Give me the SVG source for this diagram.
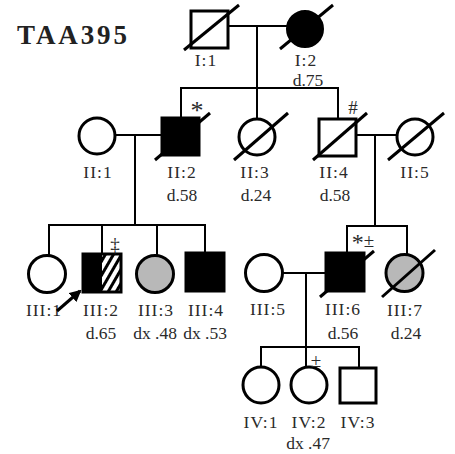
<svg xmlns="http://www.w3.org/2000/svg" width="455" height="454" viewBox="0 0 455 454">
<style>
.sh{stroke:#000;stroke-width:3;fill:#fff}
.sl{stroke:#000;stroke-width:3;stroke-linecap:butt}
.ln{stroke:#000;stroke-width:2;fill:none}
.lb{font-family:"Liberation Serif","Times New Roman",serif;font-size:17.5px;fill:#2a2a2a;text-anchor:middle;letter-spacing:1px}
.ag{font-family:"Liberation Serif","Times New Roman",serif;font-size:17.5px;fill:#2a2a2a;text-anchor:middle}
.mk{font-family:"Liberation Serif","Times New Roman",serif;font-size:20px;fill:#2a2a2a;text-anchor:middle}
</style>
<defs>
<pattern id="hatch" patternUnits="userSpaceOnUse" width="7" height="7" patternTransform="rotate(30)">
<rect x="0" y="0" width="7" height="7" fill="#fff"/>
<rect x="0" y="0" width="3" height="7" fill="#000"/>
</pattern>
<marker id="ah" markerWidth="12" markerHeight="12" refX="10" refY="6" orient="auto" markerUnits="userSpaceOnUse">
<path d="M0,0 L12,6 L0,12 Z" fill="#000"/>
</marker>
</defs>
<rect width="455" height="454" fill="#fff"/>
<text x="17" y="44" font-family="'Liberation Serif','Times New Roman',serif" font-weight="bold" font-size="27" fill="#222" textLength="110" lengthAdjust="spacing">TAA395</text>

<g id="connectors">
<line class="ln" x1="228" y1="26" x2="288" y2="26"/>
<line class="ln" x1="257" y1="26" x2="257" y2="88"/>
<line class="ln" x1="180" y1="88" x2="339" y2="88"/>
<line class="ln" x1="181" y1="88" x2="181" y2="118"/>
<line class="ln" x1="257" y1="88" x2="257" y2="119"/>
<line class="ln" x1="338" y1="88" x2="338" y2="119"/>
<line class="ln" x1="115" y1="135" x2="162" y2="135"/>
<line class="ln" x1="135" y1="135" x2="135" y2="225"/>
<line class="ln" x1="48" y1="225" x2="206" y2="225"/>
<line class="ln" x1="49" y1="225" x2="49" y2="255"/>
<line class="ln" x1="102" y1="225" x2="102" y2="254"/>
<line class="ln" x1="157" y1="225" x2="157" y2="255"/>
<line class="ln" x1="205" y1="225" x2="205" y2="253"/>
<line class="ln" x1="356" y1="135" x2="397" y2="135"/>
<line class="ln" x1="375" y1="135" x2="375" y2="226"/>
<line class="ln" x1="346" y1="226" x2="408" y2="226"/>
<line class="ln" x1="347" y1="226" x2="347" y2="253"/>
<line class="ln" x1="407" y1="226" x2="407" y2="255"/>
<line class="ln" x1="283" y1="273" x2="326" y2="273"/>
<line class="ln" x1="306" y1="273" x2="306" y2="366"/>
<line class="ln" x1="260" y1="347" x2="360" y2="347"/>
<line class="ln" x1="261" y1="347" x2="261" y2="366"/>
<line class="ln" x1="359" y1="347" x2="359" y2="368"/>
</g>

<g id="I1">
<rect class="sh" x="191" y="11" width="37" height="37"/>
<line class="sl" x1="184" y1="50" x2="239" y2="5"/>
<text class="lb" x="206" y="66">I:1</text>
</g>
<g id="I2">
<circle class="sh" cx="305" cy="29" r="17.5" style="fill:#000"/>
<line class="sl" x1="280" y1="49" x2="333" y2="5"/>
<text class="lb" x="306" y="66">I:2</text>
<text class="ag" x="308" y="86">d.75</text>
</g>

<g id="II1">
<circle class="sh" cx="97" cy="136" r="18"/>
<text class="lb" x="98" y="178">II:1</text>
</g>
<g id="II2">
<rect class="sh" x="162" y="118" width="37" height="37" style="fill:#000"/>
<line class="sl" x1="155" y1="160" x2="210" y2="113"/>
<text class="mk" x="197" y="119" style="font-size:26px">*</text>
<text class="lb" x="182" y="178">II:2</text>
<text class="ag" x="182" y="201">d.58</text>
</g>
<g id="II3">
<circle class="sh" cx="257" cy="137" r="18"/>
<line class="sl" x1="234" y1="160" x2="288" y2="113"/>
<text class="lb" x="255" y="178">II:3</text>
<text class="ag" x="256" y="201">d.24</text>
</g>
<g id="II4">
<rect class="sh" x="319" y="119" width="37" height="37"/>
<line class="sl" x1="313" y1="160" x2="367" y2="113"/>
<text class="mk" x="353" y="114" style="font-size:19px">#</text>
<text class="lb" x="334" y="178">II:4</text>
<text class="ag" x="335" y="201">d.58</text>
</g>
<g id="II5">
<circle class="sh" cx="415" cy="137" r="18"/>
<line class="sl" x1="388" y1="160" x2="444" y2="113"/>
<text class="lb" x="415" y="178">II:5</text>
</g>

<g id="III1">
<circle class="sh" cx="47" cy="274" r="18.5"/>
<text class="lb" x="44" y="316">III:1</text>
</g>
<g id="III2">
<rect x="83" y="254" width="19" height="38" fill="#000"/>
<rect x="102" y="254" width="19" height="38" fill="url(#hatch)"/>
<rect x="83" y="254" width="38" height="38" fill="none" stroke="#000" stroke-width="3"/>
<text class="mk" x="115" y="251" style="font-size:19px">‡</text>
<line x1="57" y1="311" x2="80" y2="291" stroke="#000" stroke-width="3" marker-end="url(#ah)"/>
<text class="lb" x="101" y="316">III:2</text>
<text class="ag" x="101" y="339">d.65</text>
</g>
<g id="III3">
<circle class="sh" cx="155" cy="274" r="18.5" style="fill:#b8b8b8"/>
<text class="lb" x="156" y="316">III:3</text>
<text class="ag" x="155" y="339">dx .48</text>
</g>
<g id="III4">
<rect class="sh" x="186" y="253" width="38" height="38" style="fill:#000"/>
<text class="lb" x="206" y="316">III:4</text>
<text class="ag" x="205" y="339">dx .53</text>
</g>
<g id="III5">
<circle class="sh" cx="264" cy="273" r="18.5"/>
<text class="lb" x="268" y="315">III:5</text>
</g>
<g id="III6">
<rect class="sh" x="326" y="253" width="38" height="38" style="fill:#000"/>
<line class="sl" x1="320" y1="297" x2="374" y2="251"/>
<text class="mk" x="363" y="247" style="font-size:19px"><tspan style="font-size:24px" dy="3">*</tspan><tspan dy="-3">±</tspan></text>
<text class="lb" x="343" y="315">III:6</text>
<text class="ag" x="343" y="339">d.56</text>
</g>
<g id="III7">
<circle class="sh" cx="404.5" cy="273" r="18.5" style="fill:#b8b8b8"/>
<line class="sl" x1="382" y1="297" x2="435" y2="250"/>
<text class="lb" x="405" y="316">III:7</text>
<text class="ag" x="406" y="339">d.24</text>
</g>

<g id="IV1">
<circle class="sh" cx="261" cy="385" r="18"/>
<text class="lb" x="261" y="428">IV:1</text>
</g>
<g id="IV2">
<circle class="sh" cx="309" cy="385" r="18"/>
<text class="mk" x="316" y="367" style="font-size:19px">±</text>
<text class="lb" x="309" y="428">IV:2</text>
<text class="ag" x="308" y="449">dx .47</text>
</g>
<g id="IV3">
<rect class="sh" x="340" y="368" width="36" height="35"/>
<text class="lb" x="358" y="428">IV:3</text>
</g>
</svg>
